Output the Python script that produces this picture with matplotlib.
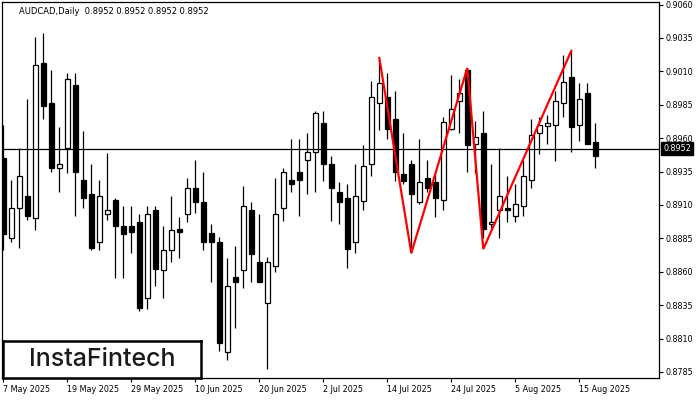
import matplotlib
matplotlib.use("Agg")
import matplotlib.pyplot as plt
from matplotlib.patches import Rectangle
from matplotlib.transforms import blended_transform_factory
import numpy as np

# ---- data ----
opens = [0.8945, 0.8885, 0.8908, 0.8917, 0.8900, 0.9016, 0.8986, 0.8938, 0.8953, 0.9000,
         0.8929, 0.8918, 0.8882, 0.8903, 0.8914, 0.8894, 0.8894, 0.8897, 0.8840, 0.8906,
         0.8861, 0.8876, 0.8892, 0.8903, 0.8923, 0.8912, 0.8889, 0.8882, 0.8800, 0.8856,
         0.8861, 0.8906, 0.8867, 0.8837, 0.8864, 0.8908, 0.8929, 0.8935, 0.8944, 0.8950,
         0.8971, 0.8941, 0.8920, 0.8915, 0.8882, 0.8913, 0.8941, 0.8986, 0.8991, 0.8974,
         0.8933, 0.8941, 0.8912, 0.8930, 0.8927, 0.8914, 0.8967, 0.8988, 0.9011, 0.8956,
         0.8964, 0.8896, 0.8906, 0.8908, 0.8902, 0.8909, 0.8929, 0.8964, 0.8969, 0.8970,
         0.8986, 0.9006, 0.8970, 0.8994, 0.8957]
highs = [0.8970, 0.8929, 0.8953, 0.8989, 0.9036, 0.9039, 0.9011, 0.8968, 0.9009, 0.9009,
         0.8965, 0.8941, 0.8929, 0.8949, 0.8915, 0.8909, 0.8909, 0.8903, 0.8909, 0.8909,
         0.8894, 0.8917, 0.8901, 0.8930, 0.8944, 0.8935, 0.8896, 0.8886, 0.8870, 0.8879,
         0.8924, 0.8912, 0.8903, 0.8871, 0.8930, 0.8938, 0.8959, 0.8959, 0.8964, 0.8980,
         0.8980, 0.8947, 0.8927, 0.8926, 0.8941, 0.8955, 0.9003, 0.9019, 0.9009, 0.8995,
         0.8964, 0.8944, 0.8959, 0.8944, 0.8933, 0.8976, 0.9007, 0.9004, 0.9012, 0.8973,
         0.8980, 0.8941, 0.8953, 0.8932, 0.8926, 0.8944, 0.8974, 0.8976, 0.8977, 0.8995,
         0.9022, 0.9025, 0.9001, 0.9001, 0.8971]
lows = [0.8876, 0.8882, 0.8878, 0.8899, 0.8891, 0.8974, 0.8935, 0.8920, 0.8934, 0.8902,
        0.8908, 0.8876, 0.8876, 0.8899, 0.8855, 0.8855, 0.8874, 0.8831, 0.8832, 0.8849,
        0.8840, 0.8867, 0.8870, 0.8897, 0.8904, 0.8876, 0.8852, 0.8801, 0.8794, 0.8818,
        0.8848, 0.8852, 0.8852, 0.8787, 0.8860, 0.8898, 0.8920, 0.8902, 0.8918, 0.8920,
        0.8928, 0.8898, 0.8896, 0.8863, 0.8874, 0.8906, 0.8932, 0.8966, 0.8959, 0.8928,
        0.8926, 0.8874, 0.8911, 0.8920, 0.8901, 0.8906, 0.8966, 0.8964, 0.8935, 0.8934,
        0.8885, 0.8893, 0.8885, 0.8897, 0.8897, 0.8902, 0.8923, 0.8948, 0.8956, 0.8943,
        0.8976, 0.8950, 0.8958, 0.8956, 0.8938]
closes = [0.8888, 0.8908, 0.8932, 0.8902, 0.9015, 0.8984, 0.8938, 0.8941, 0.9004, 0.8935,
          0.8915, 0.8878, 0.8917, 0.8906, 0.8894, 0.8888, 0.8890, 0.8833, 0.8903, 0.8862,
          0.8876, 0.8891, 0.8890, 0.8923, 0.8912, 0.8882, 0.8882, 0.8807, 0.8849, 0.8852,
          0.8909, 0.8873, 0.8852, 0.8867, 0.8903, 0.8935, 0.8926, 0.8929, 0.8950, 0.8979,
          0.8941, 0.8923, 0.8912, 0.8877, 0.8917, 0.8939, 0.8991, 0.9001, 0.8967, 0.8935,
          0.8928, 0.8918, 0.8927, 0.8923, 0.8915, 0.8972, 0.8982, 0.8994, 0.8955, 0.8961,
          0.8892, 0.8897, 0.8917, 0.8906, 0.8911, 0.8932, 0.8962, 0.8970, 0.8971, 0.8988,
          0.9002, 0.8968, 0.8989, 0.8956, 0.8947]

date_tick_bars = [0, 8, 16, 24, 32, 40, 48, 56, 64, 72]
date_tick_labels = ["7 May 2025", "19 May 2025", "29 May 2025", "10 Jun 2025", "20 Jun 2025",
                    "2 Jul 2025", "14 Jul 2025", "24 Jul 2025", "5 Aug 2025", "15 Aug 2025"]
price_ticks = [0.8785, 0.8810, 0.8835, 0.8860, 0.8885, 0.8910, 0.8935, 0.8960,
               0.8985, 0.9010, 0.9035, 0.9060]

pattern_bars = [47, 51, 58, 60, 71]
pattern_prices = [0.90200, 0.88740, 0.90125, 0.88770, 0.90254]

last_price = 0.8952
title_text = "AUDCAD,Daily  0.8952 0.8952 0.8952 0.8952"
logo_text = "InstaFintech"

# ---- figure ----
FS = 5.8
fig = plt.figure(figsize=(7, 4), dpi=100)
fig.patch.set_facecolor("white")
ax = fig.add_axes([2/700, 22/400, 657/700, 376/400])
ax.set_facecolor("white")

n = len(opens)
x = np.arange(n)
body_w = 0.6
for i in range(n):
    o, h, l, c = opens[i], highs[i], lows[i], closes[i]
    ax.vlines(x[i], l, h, color="black", lw=0.9, zorder=2)
    bottom = min(o, c)
    height = max(abs(c - o), 0.00002)
    face = "black" if c < o else "white"
    ax.add_patch(Rectangle((x[i] - body_w/2, bottom), body_w, height,
                           facecolor=face, edgecolor="black", lw=0.9, zorder=3))

ax.axhline(last_price, color="black", lw=0.9, zorder=4)
ax.plot(pattern_bars, pattern_prices, color="#ff0000", lw=1.6, zorder=5,
        solid_joinstyle="miter")

ax.set_xlim(-0.16, 81.96)
ax.set_ylim(0.87805, 0.90619)

for s in ax.spines.values():
    s.set_color("black")
    s.set_linewidth(0.9)

ax.yaxis.tick_right()
ax.set_yticks(price_ticks)
ax.set_yticklabels([f"{p:.4f}" for p in price_ticks])
ax.set_xticks(date_tick_bars)
ax.set_xticklabels(date_tick_labels)
for lab in ax.get_xticklabels():
    lab.set_horizontalalignment("left")
ax.tick_params(axis="y", direction="out", length=3, width=0.8, labelsize=FS, pad=2,
               colors="black")
ax.tick_params(axis="x", direction="out", length=3, width=0.8, labelsize=FS, pad=2,
               colors="black")

trans = blended_transform_factory(ax.transAxes, ax.transData)
ax.text(1.0065, last_price, f"{last_price:.4f}", transform=trans, fontsize=FS,
        color="white", va="center", ha="left", zorder=10,
        bbox=dict(boxstyle="square,pad=0.25", facecolor="black", edgecolor="black"))

fig.text(19/700, 1 - 11/400, title_text, fontsize=6, va="center", ha="left",
         color="black")

# logo box
lax = fig.add_axes([3/700, 22/400, 198/700, 37/400])
lax.set_xticks([])
lax.set_yticks([])
lax.set_facecolor("white")
for s in lax.spines.values():
    s.set_linewidth(1.8)
    s.set_color("black")
lax.text(0.5, 0.5, logo_text, fontsize=18, family="Inter", fontweight="medium",
         color="#1a1a1a", ha="center", va="center", transform=lax.transAxes)

fig.savefig("out.png", dpi=100, facecolor="white")
